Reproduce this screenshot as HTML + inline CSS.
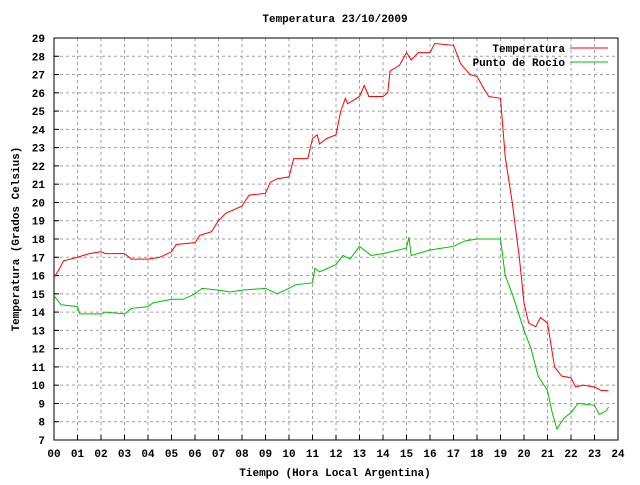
<!DOCTYPE html>
<html><head><meta charset="utf-8"><style>
body{margin:0;background:#fff}
svg text{font-family:"Liberation Mono",monospace;font-size:11px;font-weight:bold;fill:#000}
</style></head><body>
<svg width="640" height="480" xmlns="http://www.w3.org/2000/svg">
<rect width="640" height="480" fill="#fff"/>
<g id="grid"></g>
<g id="axes"></g>
<g id="series"></g>
<text x="335" y="22" text-anchor="middle">Temperatura 23/10/2009</text>
<text x="335" y="476" text-anchor="middle">Tiempo (Hora Local Argentina)</text>
<text x="19" y="239" text-anchor="middle" transform="rotate(-90 19 239)">Temperatura (Grados Celsius)</text>
<g>
<text x="565" y="52" text-anchor="end">Temperatura</text>
<line x1="570" y1="48" x2="608" y2="48" stroke="#ff0000"/>
<text x="565" y="66" text-anchor="end">Punto de Rocío</text>
<line x1="570" y1="62" x2="608" y2="62" stroke="#00c000"/>
</g>
</svg>
<script>
const xTicks=["00","01","02","03","04","05","06","07","08","09","10","11","12","13","14","15","16","17","18","19","20","21","22","23","24"];
const yTicks=[7,8,9,10,11,12,13,14,15,16,17,18,19,20,21,22,23,24,25,26,27,28,29];
const tempHours=[0,0.2,0.4,1,1.5,2,2.2,3,3.3,4,4.5,5,5.2,6,6.2,6.7,7,7.3,8,8.3,9,9.2,9.5,10,10.2,10.8,11,11.2,11.3,11.6,12,12.2,12.4,12.5,13,13.2,13.4,14,14.2,14.3,14.7,15,15.2,15.5,16,16.2,17,17.3,17.7,18,18.3,18.5,19,19.2,19.5,19.8,20,20.2,20.5,20.7,21,21.3,21.6,22,22.2,22.5,23,23.3,23.6];
const tempValues=[15.9,16.3,16.8,17.0,17.2,17.3,17.2,17.2,16.9,16.9,17.0,17.3,17.7,17.8,18.2,18.4,19.0,19.4,19.8,20.4,20.5,21.1,21.3,21.4,22.4,22.4,23.5,23.7,23.2,23.5,23.7,25.0,25.7,25.4,25.8,26.4,25.8,25.8,26.0,27.2,27.5,28.2,27.8,28.2,28.2,28.7,28.6,27.6,27.0,26.9,26.2,25.8,25.7,22.5,20.0,17.0,14.5,13.4,13.2,13.7,13.4,11.0,10.5,10.4,9.9,10.0,9.9,9.7,9.7];
const dewHours=[0,0.3,1,1.1,2,2.2,3,3.3,4,4.2,5,5.5,6,6.3,7,7.5,8,9,9.5,10,10.3,11,11.1,11.3,12,12.3,12.6,13,13.5,14,15,15.1,15.2,16,17,17.5,18,18.5,19,19.2,19.5,20,20.3,20.6,21,21.2,21.4,21.7,22,22.3,23,23.2,23.5,23.6];
const dewValues=[14.9,14.4,14.3,13.9,13.9,14.0,13.9,14.2,14.3,14.5,14.7,14.7,15.0,15.3,15.2,15.1,15.2,15.3,15.0,15.3,15.5,15.6,16.4,16.2,16.6,17.1,16.9,17.6,17.1,17.2,17.5,18.1,17.1,17.4,17.6,17.9,18.0,18.0,18.0,16.0,15.0,13.0,12.0,10.5,9.7,8.5,7.6,8.2,8.5,9.0,8.9,8.4,8.6,8.8];
const L=54,R=618,T=38,B=440,ymin=7,ymax=29;
const xs=h=>L+(R-L)*h/24;
const ys=v=>B-(B-T)*(v-ymin)/(ymax-ymin);
const NS="http://www.w3.org/2000/svg";
const grid=document.getElementById('grid'),axes=document.getElementById('axes'),ser=document.getElementById('series');
function mk(tag,attrs,parent){const e=document.createElementNS(NS,tag);for(const k in attrs)e.setAttribute(k,attrs[k]);parent.appendChild(e);return e;}
xTicks.forEach((t,i)=>{const x=xs(i);
 if(i>0&&i<24){const g=mk('line',{x1:x,y1:T,x2:x,y2:B,stroke:'#a0a0a0','stroke-dasharray':'3,3'},grid);
 
 }
 const tk=mk('line',{x1:x,y1:B,x2:x,y2:B-5,stroke:'#000'},axes);
 
 
 const tx=mk('text',{x:x,y:B+17,'text-anchor':'middle'},axes);tx.textContent=t;
 
 
});
yTicks.forEach(v=>{const y=ys(v);
 if(v>ymin&&v<ymax){const g=mk('line',{x1:L,y1:y,x2:R,y2:y,stroke:'#a0a0a0','stroke-dasharray':'3,3'},grid);
 
 }
 const tk=mk('line',{x1:L,y1:y,x2:L+5,y2:y,stroke:'#000'},axes);
 
 
 const tx=mk('text',{x:L-9,y:y+4,'text-anchor':'end'},axes);tx.textContent=v;
 
 
});
const fr=mk('rect',{x:L,y:T,width:R-L,height:B-T,fill:'none',stroke:'#000'},axes);


function line(hs,vs,color,name){const p=mk('polyline',{points:hs.map((h,i)=>xs(h)+','+ys(vs[i])).join(' '),fill:'none',stroke:color,'stroke-width':1},ser);
 
 }
line(dewHours,dewValues,'#00c000','dewpoint-line');
line(tempHours,tempValues,'#ff0000','temperature-line');
</script>
</body></html>
